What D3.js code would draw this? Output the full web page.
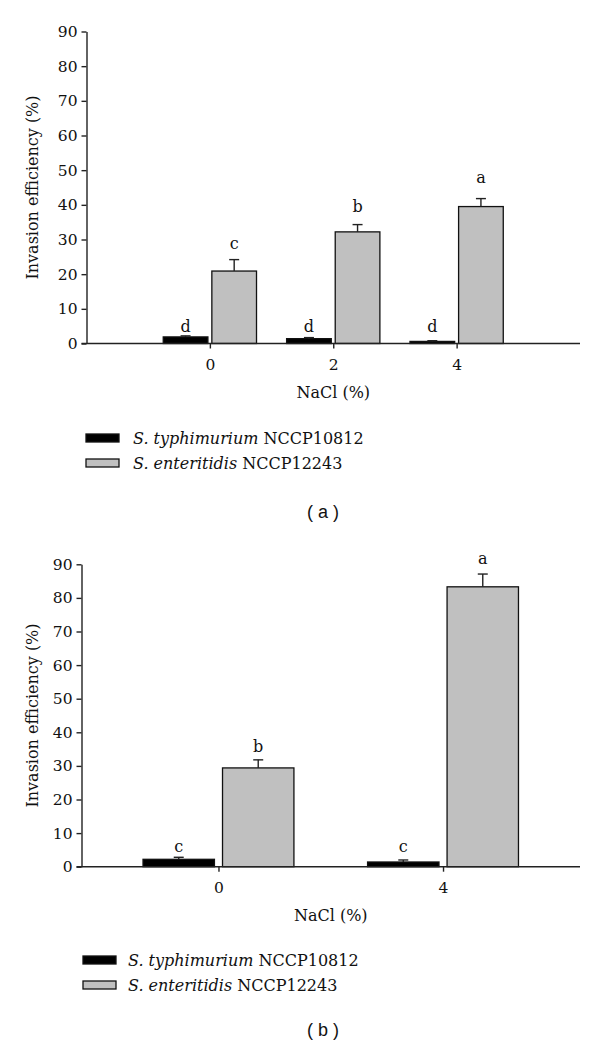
<!DOCTYPE html>
<html>
<head>
<meta charset="utf-8">
<script src="https://cdn.jsdelivr.net/npm/d3@7"></script>
<style>
  html, body { margin: 0; padding: 0; background: #fff; }
  svg { display: block; }
</style>
</head>
<body>
<svg id="chart" width="600" height="1048"></svg>
<script>
// ---------- DATA ----------
const yTicks = [0, 10, 20, 30, 40, 50, 60, 70, 80, 90];
const seriesNames = ["S. typhimurium", "S. enteritidis"];
const strainNames = ["NCCP10812", "NCCP12243"];

// Panel (a)
const categoriesA = ["0", "2", "4"];
const typhiA = [1.9, 1.4, 0.6];
const typhiErrA = [0.3, 0.3, 0.2];
const enterA = [20.9, 32.2, 39.5];
const enterErrA = [3.3, 2.1, 2.3];
const typhiLettersA = ["d", "d", "d"];
const enterLettersA = ["c", "b", "a"];
const typhiLetterPosA = [3.4, 3.4, 3.4];
const enterLetterPosA = [27.2, 37.8, 46.3];

// Panel (b)
const categoriesB = ["0", "4"];
const typhiB = [2.2, 1.4];
const typhiErrB = [0.6, 0.6];
const enterB = [29.4, 83.3];
const enterErrB = [2.4, 3.8];
const typhiLettersB = ["c", "c"];
const enterLettersB = ["b", "a"];
const typhiLetterPosB = [4.5, 4.5];
const enterLetterPosB = [34.2, 90.1];

// ---------- DRAW ----------
const svg = d3.select("#chart");
const SERIF = "'DejaVu Serif', 'Liberation Serif', serif";
const SANS = "'Liberation Sans', Arial, sans-serif";
const fills = ["#000000", "#c0c0c0"];

const panels = [
  {
    cats: categoriesA, vals: [typhiA, enterA], errs: [typhiErrA, enterErrA],
    letters: [typhiLettersA, enterLettersA], letterPos: [typhiLetterPosA, enterLetterPosA],
    left: 86.5, right: 580, top: 31.5, bottom: 343.5, pad: 1, barFrac: 0.362, gapFrac: 0.032,
    titleX: 37.5, xLabelY: 370, nameY: 398,
    legX: 86, legTextX: 133, legY: 434, tag: "( a )", tagY: 518
  },
  {
    cats: categoriesB, vals: [typhiB, enterB], errs: [typhiErrB, enterErrB],
    letters: [typhiLettersB, enterLettersB], letterPos: [typhiLetterPosB, enterLetterPosB],
    left: 81.5, right: 580, top: 564.3, bottom: 866.7, pad: 0.61, barFrac: 0.318, gapFrac: 0.036,
    titleX: 37.5, xLabelY: 893, nameY: 921,
    legX: 83, legTextX: 128, legY: 956, tag: "( b )", tagY: 1036
  }
];

panels.forEach(p => {
  const g = svg.append("g");
  const x = d3.scalePoint().domain(p.cats).range([p.left, p.right]).padding(p.pad);
  const y = d3.scaleLinear().domain([0, 90]).range([p.bottom, p.top]);
  const step = x.step();
  const bw = step * p.barFrac;
  const gap = step * p.gapFrac;
  const offsets = [-gap / 2 - bw, gap / 2];

  // bars, error bars, letters
  p.vals.forEach((series, si) => {
    const sg = g.append("g");
    sg.selectAll("rect").data(p.cats).join("rect")
      .attr("x", c => x(c) + offsets[si])
      .attr("y", (c, i) => y(series[i]))
      .attr("width", bw)
      .attr("height", (c, i) => y(0) - y(series[i]))
      .attr("fill", fills[si])
      .attr("stroke", "#111")
      .attr("stroke-width", 1.3);

    // error bars (upward only)
    sg.selectAll("line.err").data(p.cats).join("line")
      .attr("class", "err")
      .attr("x1", c => x(c) + offsets[si] + bw / 2)
      .attr("x2", c => x(c) + offsets[si] + bw / 2)
      .attr("y1", (c, i) => y(series[i]))
      .attr("y2", (c, i) => y(series[i] + p.errs[si][i]))
      .attr("stroke", "#222").attr("stroke-width", 1.4);
    sg.selectAll("line.cap").data(p.cats).join("line")
      .attr("class", "cap")
      .attr("x1", c => x(c) + offsets[si] + bw / 2 - 5)
      .attr("x2", c => x(c) + offsets[si] + bw / 2 + 5)
      .attr("y1", (c, i) => y(series[i] + p.errs[si][i]))
      .attr("y2", (c, i) => y(series[i] + p.errs[si][i]))
      .attr("stroke", "#222").attr("stroke-width", 1.4);

    sg.selectAll("text.letter").data(p.cats).join("text")
      .attr("class", "letter")
      .attr("x", c => x(c) + offsets[si] + bw / 2)
      .attr("y", (c, i) => y(p.letterPos[si][i]))
      .attr("text-anchor", "middle")
      .attr("font-family", SERIF).attr("font-size", 16).attr("fill", "#111")
      .text((c, i) => p.letters[si][i]);
  });

  // y axis
  const yAxis = d3.axisLeft(y).tickValues(yTicks).tickSize(5).tickPadding(4).tickSizeOuter(0);
  const ya = g.append("g").attr("transform", `translate(${p.left},0)`).call(yAxis);
  ya.select(".domain").attr("stroke", "#222").attr("stroke-width", 1.4);
  ya.selectAll(".tick line").attr("stroke", "#222").attr("stroke-width", 1.4);
  ya.selectAll(".tick text").attr("font-family", SERIF).attr("font-size", 15.5).attr("fill", "#111");

  // x axis
  const xAxis = d3.axisBottom(x).tickSize(5).tickSizeOuter(0).tickPadding(9);
  const xa = g.append("g").attr("transform", `translate(0,${p.bottom})`).call(xAxis);
  xa.select(".domain").attr("stroke", "#222").attr("stroke-width", 1.4)
    .attr("d", `M${p.left - 5},0H${p.right}`);
  xa.selectAll(".tick line").attr("stroke", "#222").attr("stroke-width", 1.4);
  xa.selectAll(".tick text").attr("font-family", SERIF).attr("font-size", 15.5).attr("fill", "#111")
    .attr("dy", null).attr("y", p.xLabelY - p.bottom);

  // axis titles
  g.append("text")
    .attr("transform", `translate(${p.titleX},${(p.top + p.bottom) / 2}) rotate(-90)`)
    .attr("text-anchor", "middle")
    .attr("font-family", SERIF).attr("font-size", 16).attr("fill", "#111")
    .text("Invasion efficiency (%)");
  g.append("text")
    .attr("x", (p.left + p.right) / 2).attr("y", p.nameY)
    .attr("text-anchor", "middle")
    .attr("font-family", SERIF).attr("font-size", 16).attr("fill", "#111")
    .text("NaCl (%)");

  // legend
  seriesNames.forEach((nm, si) => {
    const ly = p.legY + si * 25;
    g.append("rect").attr("x", p.legX).attr("y", ly).attr("width", 33).attr("height", 8)
      .attr("fill", fills[si]).attr("stroke", "#111").attr("stroke-width", 1.3);
    const t = g.append("text").attr("x", p.legTextX).attr("y", ly + 10)
      .attr("font-family", SERIF).attr("font-size", 16).attr("fill", "#111");
    t.append("tspan").attr("font-style", "italic").text(nm);
    t.append("tspan").text(" " + strainNames[si]);
  });

  // panel tag
  g.append("text")
    .attr("x", 323).attr("y", p.tagY).attr("text-anchor", "middle")
    .attr("font-family", SANS).attr("font-size", 18).attr("fill", "#111")
    .attr("xml:space", "preserve")
    .text(p.tag);
});
</script>
</body>
</html>
